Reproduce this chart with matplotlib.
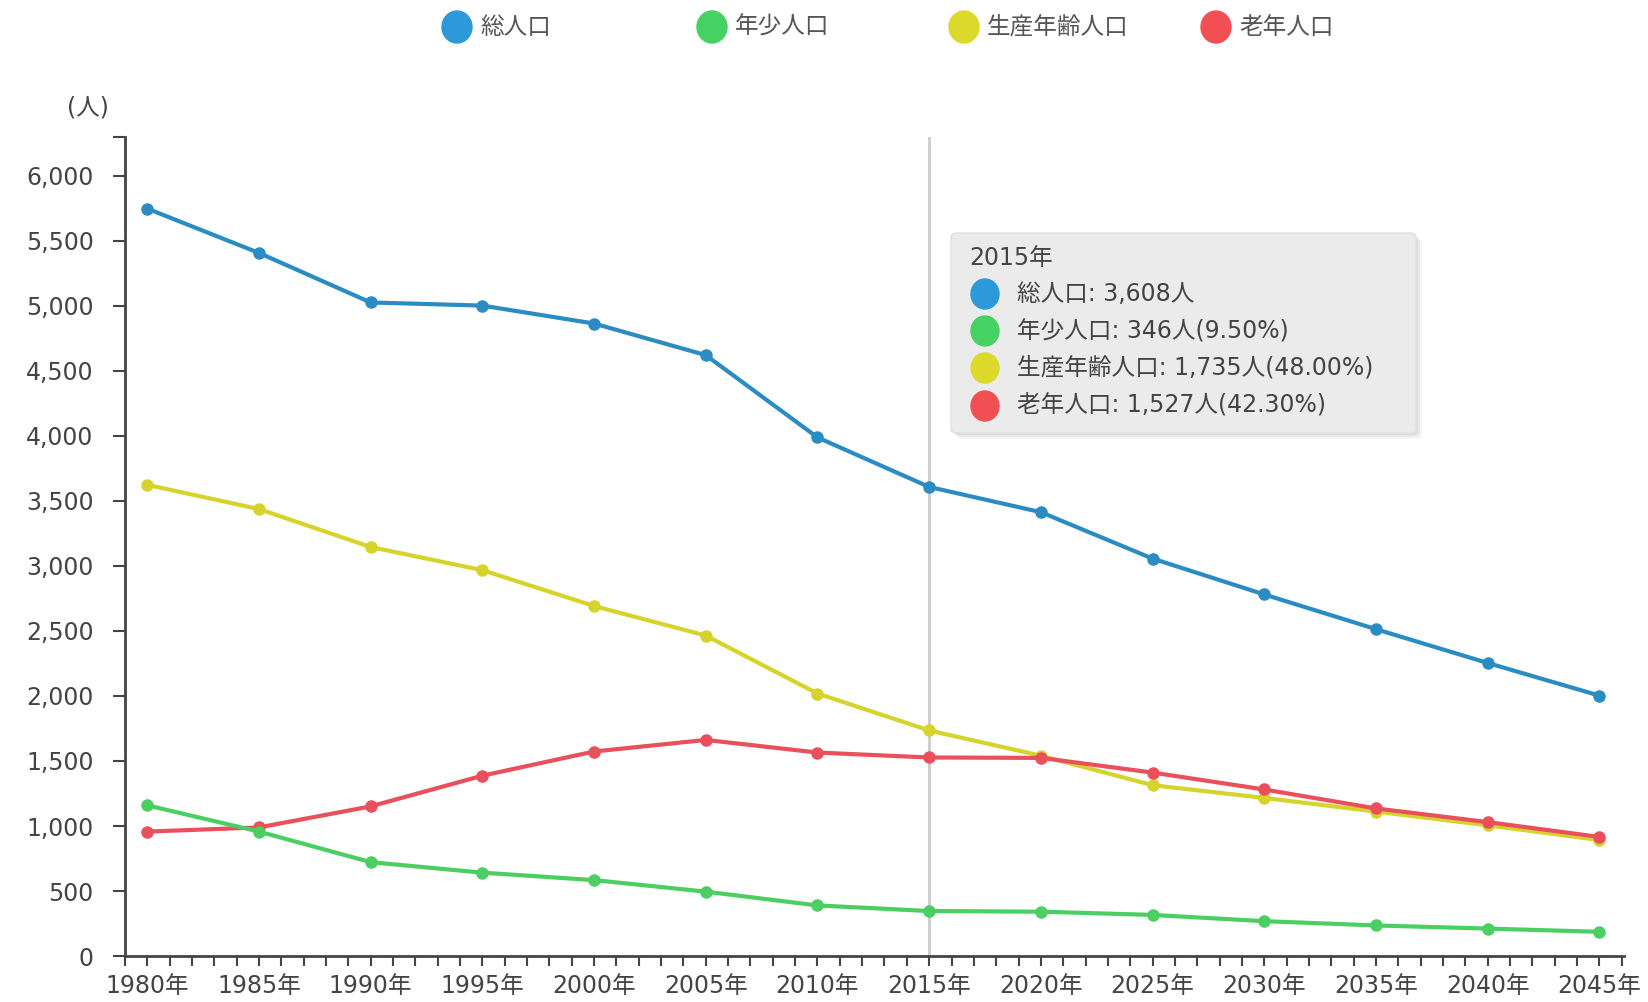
import numpy as np
import matplotlib.pyplot as plt
from matplotlib.patches import FancyBboxPatch, Ellipse
from matplotlib.ticker import MultipleLocator, FixedLocator

plt.rcParams['font.family'] = ['DejaVu Sans', 'Noto Sans CJK JP']

# 人口推移（実績＋推計）
years = [1980, 1985, 1990, 1995, 2000, 2005, 2010, 2015, 2020, 2025, 2030, 2035, 2040, 2045]
total = [5749, 5408, 5027, 5003, 4865, 4622, 3989, 3608, 3414, 3057, 2781, 2514, 2254, 2003]
young = [1159, 957, 722, 641, 584, 495, 389, 346, 341, 316, 268, 235, 211, 186]
working = [3624, 3438, 3146, 2968, 2692, 2465, 2019, 1735, 1541, 1314, 1216, 1111, 1005, 892]
elderly = [957, 989, 1151, 1387, 1573, 1662, 1565, 1527, 1524, 1411, 1281, 1135, 1030, 916]

names = ['総人口', '年少人口', '生産年齢人口', '老年人口']
line_colors = ['#2b8cc4', '#4ccf62', '#d6d32c', '#e9505b']
dot_colors = ['#2c9ad8', '#45d262', '#dcd82c', '#f24f55']
series = [total, young, working, elderly]

# ツールチップ表示年と構成比（%）
highlight_year = 2015
tip_title = '2015年'
shares = [9.50, 48.00, 42.30]

fig = plt.figure(figsize=(16.48, 10.02), dpi=100)
ax = fig.add_axes([0.0758, 0.0459, 0.9096, 0.8174])

ax.axvline(highlight_year, color='#cccccc', lw=2, zorder=1)

# 描画順: 総人口, 生産年齢, 老年, 年少
for i in [0, 2, 3, 1]:
    ax.plot(years, series[i], color=line_colors[i], lw=3, marker='o', ms=8,
            zorder=3)

ax.set_xlim(1979, 2046.1)
ax.set_ylim(0, 6300)

ax.xaxis.set_major_locator(FixedLocator(years))
ax.xaxis.set_minor_locator(MultipleLocator(1))
ax.set_xticklabels([f'{y}年' for y in years])
ax.yaxis.set_major_locator(MultipleLocator(500))
ax.yaxis.set_minor_locator(FixedLocator([6300]))
ax.yaxis.set_major_formatter(plt.FuncFormatter(lambda v, p: f'{int(v):,}'))

for s in ['top', 'right']:
    ax.spines[s].set_visible(False)
for s in ['left', 'bottom']:
    ax.spines[s].set_color('#444444')
    ax.spines[s].set_linewidth(2)

ax.tick_params(axis='both', which='both', direction='out', color='#444444',
               width=1.5, labelcolor='#444444', labelsize=17)
ax.tick_params(axis='x', which='both', length=7, pad=6)
ax.tick_params(axis='y', which='both', length=8.5, pad=14)

fig.text(88 / 1648, 1 - 107 / 1002, '(人)', ha='center', va='center',
         fontsize=17, color='#444444')

# 凡例（上部）
W, H = 1648, 1002
leg_x = [457, 712, 964, 1216]
for x, name, c in zip(leg_x, names, dot_colors):
    fig.patches.append(Ellipse((x / W, 1 - 27 / H), 30 / W, 32 / H,
                               transform=fig.transFigure, color=c))
    fig.text((x + 23) / W, 1 - 27 / H, name, ha='left', va='center',
             fontsize=17, color='#555555')

# ツールチップ
for k, a in enumerate([0.05, 0.05, 0.04]):
    off = 2 + k * 2
    fig.patches.append(FancyBboxPatch(
        ((951 + off) / W, 1 - (433 + off) / H), 465 / W, 200 / H,
        boxstyle='round,pad=0,rounding_size=0.004', transform=fig.transFigure,
        fc='black', ec='none', alpha=a, zorder=5))
fig.patches.append(FancyBboxPatch(
    (951 / W, 1 - 433 / H), 465 / W, 200 / H,
    boxstyle='round,pad=0,rounding_size=0.004', transform=fig.transFigure,
    fc='#ebebeb', ec='#e0e0e0', lw=1, zorder=6))

fig.text(969 / W, 1 - 258 / H, tip_title, ha='left', va='center',
         fontsize=17, color='#444444', zorder=7)

idx = years.index(highlight_year)
rows = [f'{names[0]}: {total[idx]:,}人']
for n, s, p in zip(names[1:], series[1:], shares):
    rows.append(f'{n}: {s[idx]:,}人({p:.2f}%)')
row_y = [294, 331, 368, 406]
for y, txt, c in zip(row_y, rows, dot_colors):
    fig.patches.append(Ellipse((985 / W, 1 - y / H), 28 / W, 30 / H,
                               transform=fig.transFigure, color=c, zorder=7))
    fig.text(1017 / W, 1 - y / H, txt, ha='left', va='center', fontsize=17,
             color='#444444', zorder=7)

fig.savefig('out.png', dpi=100, facecolor='white')
